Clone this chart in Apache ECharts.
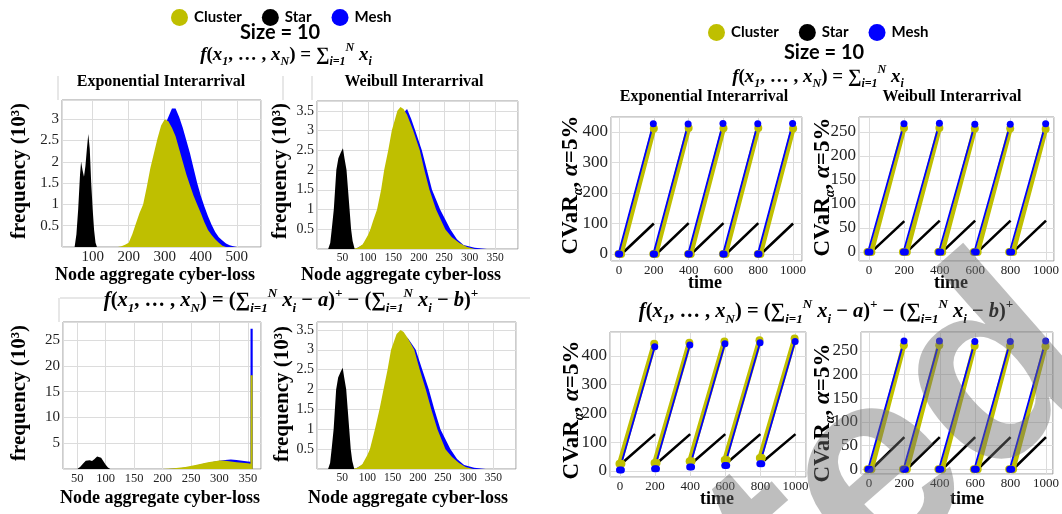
<!DOCTYPE html>
<html>
<head>
<meta charset="utf-8">
<title>Size = 10</title>
<script src="https://cdn.jsdelivr.net/npm/echarts@6/dist/echarts.min.js"></script>
<style>
    html, body {
        margin: 0;
        padding: 0;
        background: #ffffff;
    }

    #main {
        width: 1062px;
        height: 514px;
    }
</style>
</head>
<body>
<div id="main"></div>
<script>
    // ---- histogram data: [loss, frequency (10^3)] ----
    // Exponential interarrival, f = sum x_i
    var expSumStar = [[50, 0], [55, 0.3], [60, 0.9], [65, 1.7], [68, 2.0], [72, 1.8], [76, 1.65], [80, 1.9], [84, 2.3], [88, 2.65], [92, 2.3], [96, 1.5], [100, 0.9], [104, 0.4], [108, 0.1], [112, 0]];
    var expSumCluster = [[170, 0], [180, 0.02], [190, 0.05], [200, 0.1], [210, 0.3], [220, 0.55], [230, 0.8], [240, 1.0], [250, 1.4], [260, 1.85], [270, 2.2], [280, 2.55], [290, 2.85], [300, 3.0], [310, 2.95], [320, 2.8], [330, 2.6], [340, 2.3], [350, 2.0], [360, 1.7], [370, 1.45], [380, 1.2], [390, 1.0], [400, 0.8], [410, 0.58], [420, 0.4], [430, 0.28], [440, 0.18], [450, 0.1], [460, 0.03], [470, 0]];
    var expSumMesh = [[180, 0], [190, 0.03], [200, 0.07], [210, 0.2], [220, 0.42], [230, 0.7], [240, 0.9], [250, 1.05], [260, 1.45], [270, 1.85], [280, 2.25], [290, 2.55], [300, 2.85], [310, 3.05], [320, 3.25], [330, 3.25], [340, 3.05], [350, 2.8], [360, 2.5], [370, 2.2], [380, 1.85], [390, 1.5], [400, 1.2], [410, 0.95], [420, 0.72], [430, 0.52], [440, 0.35], [450, 0.23], [460, 0.15], [470, 0.08], [480, 0.04], [490, 0.02], [500, 0]];

    // Weibull interarrival, f = sum x_i
    var weiSumStar = [[22, 0], [26, 0.15], [29, 0.5], [33, 1.0], [38, 2.0], [42, 2.3], [47, 2.45], [51, 2.55], [54, 2.3], [58, 2.0], [61, 1.5], [64, 1.0], [67, 0.5], [70, 0.2], [74, 0]];
    var weiSumCluster = [[70, 0], [80, 0.03], [90, 0.12], [100, 0.35], [105, 0.5], [110, 0.7], [118, 1.0], [126, 1.5], [132, 2.0], [140, 2.5], [147, 3.0], [158, 3.5], [164, 3.6], [170, 3.55], [177, 3.4], [189, 3.0], [202, 2.5], [211, 2.0], [221, 1.5], [234, 1.0], [252, 0.5], [265, 0.3], [280, 0.15], [295, 0.05], [310, 0]];
    var weiSumMesh = [[75, 0], [90, 0.1], [100, 0.3], [110, 0.6], [120, 1.0], [130, 1.6], [140, 2.2], [150, 2.8], [160, 3.25], [170, 3.45], [177, 3.55], [185, 3.3], [193, 3.0], [206, 2.5], [216, 2.0], [226, 1.5], [242, 1.0], [262, 0.5], [275, 0.25], [288, 0.1], [310, 0.03], [334, 0]];

    // Exponential interarrival, f = (sum - a)+ - (sum - b)+
    var expThrStar = [[50, 0], [55, 0.4], [60, 1.0], [65, 1.6], [68, 1.9], [72, 1.7], [76, 1.55], [80, 1.9], [85, 2.4], [88, 2.6], [92, 2.2], [96, 1.5], [100, 0.8], [104, 0.3], [108, 0]];
    var expThrCluster = [[200, 0], [220, 0.15], [240, 0.4], [260, 0.8], [280, 1.3], [300, 1.65], [310, 1.6], [320, 1.45], [330, 1.3], [340, 1.2], [350, 1.1], [354.5, 1.0], [354.6, 18.2], [358.4, 18.2], [358.5, 0]];
    var expThrMesh = [[210, 0], [230, 0.15], [250, 0.45], [270, 0.95], [290, 1.4], [300, 1.6], [310, 1.75], [320, 1.85], [330, 1.75], [340, 1.6], [350, 1.45], [354.5, 1.4], [354.6, 27.2], [358.4, 27.2], [358.5, 0]];

    // Weibull interarrival, f = (sum - a)+ - (sum - b)+
    var weiThrStar = [[22, 0], [26, 0.15], [29, 0.5], [33, 1.0], [38, 2.0], [42, 2.3], [47, 2.45], [51, 2.55], [54, 2.3], [58, 2.0], [61, 1.5], [64, 1.0], [67, 0.5], [70, 0.2], [74, 0]];
    var weiThrCluster = [[70, 0], [80, 0.03], [90, 0.12], [100, 0.35], [105, 0.5], [115, 1.0], [124, 1.5], [132, 2.0], [140, 2.5], [147, 3.0], [158, 3.4], [166, 3.5], [172, 3.45], [180, 3.3], [193, 3.0], [204, 2.5], [216, 2.0], [227, 1.5], [239, 1.0], [255, 0.5], [268, 0.3], [282, 0.15], [295, 0.05], [310, 0]];
    var weiThrMesh = [[75, 0], [90, 0.1], [100, 0.3], [110, 0.6], [120, 1.0], [130, 1.6], [140, 2.2], [150, 2.8], [160, 3.2], [170, 3.35], [180, 3.3], [188, 3.15], [196, 3.0], [209, 2.5], [222, 2.0], [233, 1.5], [245, 1.0], [265, 0.5], [278, 0.25], [292, 0.1], [312, 0.03], [335, 0]];

    // ---- CVaR data: one segment per 200-step cycle, [time, CVaR] ----
    var cvExpSumMesh = [[[-3, 0], [4, 0], [197, 427]], [[197, 0], [204, 0], [397, 426]], [[397, 0], [404, 0], [597, 428]], [[597, 0], [604, 0], [797, 427]], [[797, 0], [804, 0], [997, 428]]];
    var cvExpSumCluster = [[[-3, 0], [12, 0], [200, 411]], [[197, 0], [212, 0], [400, 413]], [[397, 0], [412, 0], [600, 412]], [[597, 0], [612, 0], [800, 413]], [[797, 0], [812, 0], [1000, 411]]];
    var cvExpSumStar = [[[15, 0], [200, 100]], [[215, 0], [400, 101]], [[415, 0], [600, 101]], [[615, 0], [800, 101]], [[815, 0], [1000, 100]]];

    var cvWeiSumMesh = [[[-5, 0], [6, 0], [198, 267]], [[195, 0], [206, 0], [398, 268]], [[395, 0], [406, 0], [598, 266]], [[595, 0], [606, 0], [798, 266]], [[795, 0], [806, 0], [998, 267]]];
    var cvWeiSumCluster = [[[-8, 0], [14, 0], [198, 258]], [[192, 0], [214, 0], [398, 258]], [[392, 0], [414, 0], [598, 257]], [[592, 0], [614, 0], [798, 257]], [[792, 0], [814, 0], [998, 256]]];
    var cvWeiSumStar = [[[14, 0], [200, 64]], [[214, 0], [400, 65]], [[414, 0], [600, 65]], [[614, 0], [800, 65]], [[814, 0], [1000, 65]]];

    var cvExpThrMesh = [[[-3, 3], [8, 3], [198, 432]], [[197, 8], [208, 8], [398, 438]], [[397, 14], [408, 14], [598, 442]], [[597, 19], [608, 19], [798, 446]], [[797, 25], [808, 25], [998, 450]]];
    var cvExpThrCluster = [[[-3, 25], [8, 25], [195, 442]], [[197, 28], [208, 28], [395, 446]], [[397, 34], [408, 34], [595, 450]], [[597, 38], [608, 38], [795, 454]], [[797, 45], [808, 45], [995, 460]]];
    var cvExpThrStar = [[[22, 33], [200, 128]], [[222, 33], [400, 128]], [[422, 34], [600, 128]], [[622, 35], [800, 128]], [[822, 36], [1000, 128]]];

    var cvWeiThrMesh = [[[-5, 0], [6, 0], [198, 271]], [[195, 0], [206, 0], [398, 271]], [[395, 0], [406, 0], [598, 270]], [[595, 0], [606, 0], [798, 270]], [[795, 0], [806, 0], [998, 271]]];
    var cvWeiThrCluster = [[[-8, 0], [14, 0], [197, 262]], [[192, 0], [214, 0], [397, 262]], [[392, 0], [414, 0], [597, 261]], [[592, 0], [614, 0], [797, 261]], [[792, 0], [814, 0], [997, 260]]];
    var cvWeiThrStar = [[[14, 0], [200, 68]], [[214, 0], [400, 68]], [[414, 0], [600, 68]], [[614, 0], [800, 68]], [[814, 0], [1000, 68]]];

    var topologies = ['Cluster', 'Star', 'Mesh'];
    var colors = {Cluster: '#bfbf00', Star: '#000000', Mesh: '#0000ff'};

    var serif = 'Liberation Serif';

    // plot boxes: 4 histograms then 4 CVaR panels
    var gridRects = [
        {left: 62, top: 100, width: 199, height: 147},
        {left: 317, top: 101, width: 201, height: 148},
        {left: 63, top: 322, width: 198, height: 147},
        {left: 317, top: 322, width: 199, height: 147},
        {left: 611, top: 117, width: 191, height: 144},
        {left: 859, top: 117, width: 195, height: 144},
        {left: 610, top: 332, width: 196, height: 145},
        {left: 861, top: 332, width: 194, height: 142}
    ];
    var xRanges = [
        {min: 15, max: 567}, {min: 0, max: 395, interval: 50}, {min: 25, max: 373}, {min: 0, max: 395, interval: 50},
        {min: -46, max: 1051}, {min: -56, max: 1045}, {min: -57, max: 1060}, {min: -45, max: 1039}
    ];
    var yRanges = [
        {min: 0, max: 3.45, interval: 0.5}, {min: 0, max: 3.75, interval: 0.5}, {min: 0, max: 28.5, interval: 5}, {min: 0, max: 3.7, interval: 0.5},
        {min: -23, max: 449}, {min: -19, max: 281}, {min: -21, max: 483}, {min: -10, max: 290}
    ];
    var xLabelSize = [15, 11.5, 12.5, 11.5, 13, 13, 13, 13];
    var yLabelSize = [15, 14, 15, 14, 17, 17, 17, 17];

    function plainNumber(v) {
        return String(v);
    }

    var grids = [], xAxes = [], yAxes = [];
    gridRects.forEach(function (r, i) {
        grids.push({
            left: r.left, top: r.top, width: r.width, height: r.height,
            show: true, borderColor: '#9a9a9a', borderWidth: 1, backgroundColor: 'transparent'
        });
        xAxes.push(Object.assign({
            type: 'value', gridIndex: i,
            axisLine: {show: false}, axisTick: {show: false},
            splitLine: {show: true, lineStyle: {color: '#dcdcdc', width: 1}},
            axisLabel: {
                fontFamily: serif, fontSize: xLabelSize[i], color: '#222', margin: 3,
                formatter: plainNumber,
                showMinLabel: i >= 4 ? null : false, showMaxLabel: false
            }
        }, xRanges[i]));
        yAxes.push(Object.assign({
            type: 'value', gridIndex: i,
            axisLine: {show: false}, axisTick: {show: false},
            splitLine: {show: true, lineStyle: {color: '#dcdcdc', width: 1}},
            axisLabel: {
                fontFamily: serif, fontSize: yLabelSize[i], color: '#222', margin: 3,
                formatter: plainNumber,
                showMinLabel: i >= 4 ? null : false, showMaxLabel: false
            }
        }, yRanges[i]));
    });

    var series = [];

    function histSeries(name, data, idx) {
        series.push({
            name: name, type: 'line', xAxisIndex: idx, yAxisIndex: idx,
            data: data, symbol: 'none', silent: true,
            itemStyle: {color: colors[name]},
            lineStyle: {width: 0, opacity: 0},
            areaStyle: {color: colors[name], opacity: 1}
        });
    }

    // segments are joined with an empty point so the cycles stay separate
    function joinSegments(segs) {
        var out = [];
        segs.forEach(function (seg, k) {
            if (k) out.push([seg[0][0], '-']);
            out = out.concat(seg);
        });
        return out;
    }

    function cvarSeries(name, segs, idx) {
        var s = {
            name: name, type: 'line', xAxisIndex: idx, yAxisIndex: idx,
            data: joinSegments(segs), silent: true, connectNulls: false,
            itemStyle: {color: colors[name]}
        };
        if (name === 'Cluster') {
            s.lineStyle = {width: 5, color: colors[name]};
            s.symbol = 'circle';
            s.symbolSize = 8;
        } else if (name === 'Mesh') {
            s.lineStyle = {width: 1.8, color: colors[name]};
            s.symbol = 'circle';
            s.symbolSize = 7;
        } else {
            s.lineStyle = {width: 2.6, color: colors[name]};
            s.symbol = 'none';
        }
        series.push(s);
    }

    histSeries('Mesh', expSumMesh, 0);
    histSeries('Cluster', expSumCluster, 0);
    histSeries('Star', expSumStar, 0);
    histSeries('Mesh', weiSumMesh, 1);
    histSeries('Cluster', weiSumCluster, 1);
    histSeries('Star', weiSumStar, 1);
    histSeries('Mesh', expThrMesh, 2);
    histSeries('Cluster', expThrCluster, 2);
    histSeries('Star', expThrStar, 2);
    histSeries('Mesh', weiThrMesh, 3);
    histSeries('Cluster', weiThrCluster, 3);
    histSeries('Star', weiThrStar, 3);

    cvarSeries('Star', cvExpSumStar, 4);
    cvarSeries('Cluster', cvExpSumCluster, 4);
    cvarSeries('Mesh', cvExpSumMesh, 4);
    cvarSeries('Star', cvWeiSumStar, 5);
    cvarSeries('Cluster', cvWeiSumCluster, 5);
    cvarSeries('Mesh', cvWeiSumMesh, 5);
    cvarSeries('Star', cvExpThrStar, 6);
    cvarSeries('Cluster', cvExpThrCluster, 6);
    cvarSeries('Mesh', cvExpThrMesh, 6);
    cvarSeries('Star', cvWeiThrStar, 7);
    cvarSeries('Cluster', cvWeiThrCluster, 7);
    cvarSeries('Mesh', cvWeiThrMesh, 7);

    // ---- texts ----
    function mathStyles(size) {
        var sub = Math.round(size * 0.63);
        return {
            it: {fontFamily: serif, fontStyle: 'italic', fontWeight: 'bold', fontSize: size, lineHeight: size + 7, verticalAlign: 'middle', color: '#000'},
            rm: {fontFamily: serif, fontWeight: 'bold', fontSize: size, lineHeight: size + 7, verticalAlign: 'middle', color: '#000'},
            sb: {fontFamily: serif, fontStyle: 'italic', fontWeight: 'bold', fontSize: sub, lineHeight: sub, verticalAlign: 'bottom', color: '#000'},
            sp: {fontFamily: serif, fontStyle: 'italic', fontWeight: 'bold', fontSize: sub, lineHeight: sub, verticalAlign: 'top', color: '#000'}
        };
    }
    var formulaSum = '{it|f}{rm|(}{it|x}{sb|1}{rm|, … , }{it|x}{sb|N}{rm|) = ∑}{sb|i=1}{sp|N}{it| x}{sb|i}';
    var formulaThr = '{it|f}{rm|(}{it|x}{sb|1}{rm|, … , }{it|x}{sb|N}{rm|) = (∑}{sb|i=1}{sp|N}{it| x}{sb|i}{rm| − }{it|a}{rm|)}{sp|+}'
        + '{rm| − (∑}{sb|i=1}{sp|N}{it| x}{sb|i}{rm| − }{it|b}{rm|)}{sp|+}';

    function txt(text, x, y, size, opts) {
        opts = opts || {};
        return {
            type: 'text', x: x, y: y, rotation: opts.rotation || 0, silent: true, z: 10,
            style: {
                text: text, rich: opts.rich,
                fontFamily: opts.family || serif, fontSize: size, fontWeight: 'bold',
                fill: '#000', align: 'center', verticalAlign: 'middle'
            }
        };
    }

    function vline(x, y1, y2) {
        return {type: 'line', silent: true, shape: {x1: x, y1: y1, x2: x, y2: y2}, style: {stroke: '#cfcfcf', lineWidth: 1}};
    }

    var cvarRich = {
        b: {fontFamily: serif, fontWeight: 'bold', fontSize: 23, lineHeight: 28, verticalAlign: 'middle', color: '#000'},
        s: {fontFamily: serif, fontStyle: 'italic', fontWeight: 'bold', fontSize: 14, lineHeight: 14, verticalAlign: 'bottom', color: '#000'},
        i: {fontFamily: serif, fontStyle: 'italic', fontWeight: 'bold', fontSize: 23, lineHeight: 28, verticalAlign: 'middle', color: '#000'}
    };
    var cvarLabel = '{b|CVaR}{s|α}{b|, }{i|α}{b|=5%}';

    var graphics = [
        vline(58, 76, 100), vline(283, 76, 100), vline(312, 76, 100), vline(59, 298, 322),
        {type: 'line', silent: true, shape: {x1: 60, y1: 298, x2: 530, y2: 298}, style: {stroke: '#cfcfcf', lineWidth: 1}},

        txt('Size = 10', 280, 33, 20, {family: 'Lato'}),
        txt('Size = 10', 824, 53, 20, {family: 'Lato'}),
        txt(formulaSum, 286, 55, 19, {rich: mathStyles(19)}),
        txt(formulaSum, 818, 77, 19, {rich: mathStyles(19)}),
        txt(formulaThr, 291, 301, 20.5, {rich: mathStyles(20.5)}),
        txt(formulaThr, 826, 312, 20.5, {rich: mathStyles(20.5)}),

        txt('Exponential Interarrival', 161, 82, 16),
        txt('Weibull Interarrival', 414, 82, 16),
        txt('Exponential Interarrival', 704, 97, 16),
        txt('Weibull Interarrival', 952, 97, 16),

        txt('frequency (10³)', 20, 171, 21, {rotation: Math.PI / 2}),
        txt('frequency (10³)', 281, 171, 21, {rotation: Math.PI / 2}),
        txt('frequency (10³)', 20, 393, 21, {rotation: Math.PI / 2}),
        txt('frequency (10³)', 283, 394, 21, {rotation: Math.PI / 2}),
        txt('Node aggregate cyber-loss', 155, 275, 18),
        txt('Node aggregate cyber-loss', 401, 275, 18),
        txt('Node aggregate cyber-loss', 160, 498, 18),
        txt('Node aggregate cyber-loss', 408, 498, 18),

        txt(cvarLabel, 571, 185, 23, {rotation: Math.PI / 2, rich: cvarRich}),
        txt(cvarLabel, 823, 187, 23, {rotation: Math.PI / 2, rich: cvarRich}),
        txt(cvarLabel, 572, 410, 23, {rotation: Math.PI / 2, rich: cvarRich}),
        txt(cvarLabel, 823, 413, 23, {rotation: Math.PI / 2, rich: cvarRich}),
        txt('time', 705, 283, 18),
        txt('time', 951, 283, 18),
        txt('time', 717, 499, 18),
        txt('time', 967, 499, 18),

        // grey watermark crossing the lower right corner
        {
            type: 'text', x: 905, y: 455, rotation: 0.72, silent: true, z: 20,
            style: {
                text: 'ted', fontFamily: 'Liberation Sans', fontWeight: 'bold', fontSize: 270,
                fill: 'rgba(110,110,110,0.45)', align: 'center', verticalAlign: 'middle'
            }
        }
    ];

    var legendStyle = {
        data: topologies, icon: 'circle', itemWidth: 17, itemHeight: 17, itemGap: 20,
        selectedMode: false,
        textStyle: {fontFamily: 'Lato', fontWeight: 'bold', fontSize: 15, color: '#000', padding: [0, 0, 0, 1]}
    };

    var myChart = echarts.init(document.getElementById('main'), null, {renderer: 'canvas'});
    myChart.setOption({
        animation: false,
        backgroundColor: '#ffffff',
        legend: [
            Object.assign({left: 166, top: 4}, legendStyle),
            Object.assign({left: 703, top: 19}, legendStyle)
        ],
        grid: grids,
        xAxis: xAxes,
        yAxis: yAxes,
        series: series,
        graphic: graphics
    });
</script>
</body>
</html>
